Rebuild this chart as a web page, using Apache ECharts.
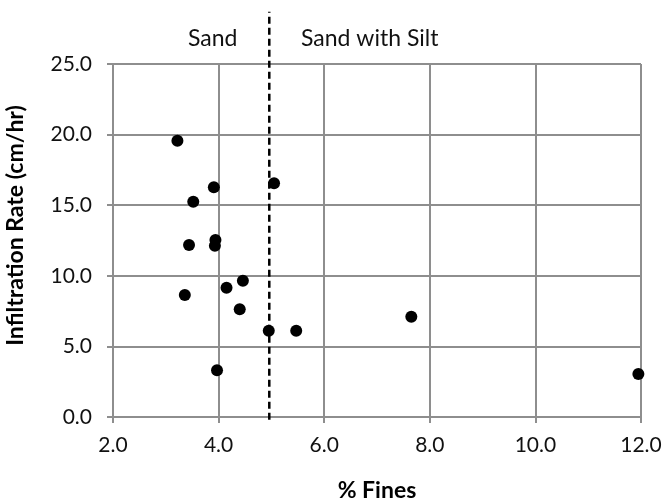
<!DOCTYPE html>
<html>
<head>
<meta charset="utf-8">
<script src="https://cdn.jsdelivr.net/npm/echarts@6/dist/echarts.min.js"></script>
<style>
  html, body { margin: 0; padding: 0; background: #fff; }
  #chart { width: 662px; height: 500px; }
</style>
</head>
<body>
<div id="chart"></div>
<script>
// % fines vs infiltration rate
var fines = [3.22, 3.91, 3.52, 5.05, 3.44, 3.94, 3.93, 3.36, 4.15, 4.46, 4.40, 4.95, 5.47, 3.97, 7.65, 11.95];
var rates = [19.57, 16.27, 15.25, 16.55, 12.18, 12.54, 12.13, 8.64, 9.16, 9.65, 7.63, 6.11, 6.11, 3.31, 7.10, 3.05];
var xTicks = [2, 4, 6, 8, 10, 12];
var yTicks = [0, 5, 10, 15, 20, 25];
var dividerX = 4.96;   // Sand / Sand with Silt boundary
var zoneLabels = ['Sand', 'Sand with Silt'];

var chart = echarts.init(document.getElementById('chart'));
var font = 'Lato, "Open Sans", sans-serif';
var gridColor = '#8e8e8e';

var points = fines.map(function (f, i) { return [f, rates[i]]; });

option = {
  animation: false,
  grid: { left: 113, right: 21, top: 64, bottom: 83, containLabel: false, outerBoundsMode: 'none' },
  xAxis: {
    type: 'value',
    min: xTicks[0],
    max: xTicks[xTicks.length - 1],
    interval: 2,
    name: '% Fines',
    nameLocation: 'middle',
    nameGap: 62,
    nameTextStyle: { fontFamily: font, fontSize: 23, fontWeight: 'bold', color: '#000' },
    axisLine: { lineStyle: { color: gridColor, width: 2 } },
    axisTick: { show: true, length: 6, lineStyle: { color: gridColor, width: 2 } },
    axisLabel: { margin: 18, fontFamily: font, fontSize: 21, color: '#111',
      formatter: function (v) { return v.toFixed(1); } },
    splitLine: { show: true, lineStyle: { color: gridColor, width: 2 } }
  },
  yAxis: {
    type: 'value',
    min: yTicks[0],
    max: yTicks[yTicks.length - 1],
    interval: 5,
    name: 'Infiltration Rate (cm/hr)',
    nameLocation: 'middle',
    nameGap: 86,
    nameTextStyle: { fontFamily: font, fontSize: 23, fontWeight: 'bold', color: '#000',
      padding: [0, 0, 0, 30] },
    axisLine: { show: true, lineStyle: { color: gridColor, width: 2 } },
    axisTick: { show: true, length: 6, lineStyle: { color: gridColor, width: 2 } },
    axisLabel: { margin: 21, fontFamily: font, fontSize: 21, color: '#111',
      formatter: function (v) { return v.toFixed(1); } },
    splitLine: { show: true, lineStyle: { color: gridColor, width: 2 } }
  },
  graphic: [
    { type: 'text', left: 188, top: 27, style: { text: zoneLabels[0], font: '23px ' + font, fill: '#111' } },
    { type: 'text', left: 301, top: 27, style: { text: zoneLabels[1], font: '23px ' + font, fill: '#111' } }
  ],
  series: [
    {
      type: 'line',
      data: [[dividerX, -0.2], [dividerX, 28.7]],
      clip: false,
      symbol: 'none',
      silent: true,
      lineStyle: { color: '#000', width: 2.5, type: [7, 4] },
      z: 1
    },
    {
      type: 'scatter',
      data: points,
      symbol: 'circle',
      symbolSize: 12,
      itemStyle: { color: '#000', opacity: 1 },
      z: 3
    }
  ]
};
chart.setOption(option);
</script>
</body>
</html>
